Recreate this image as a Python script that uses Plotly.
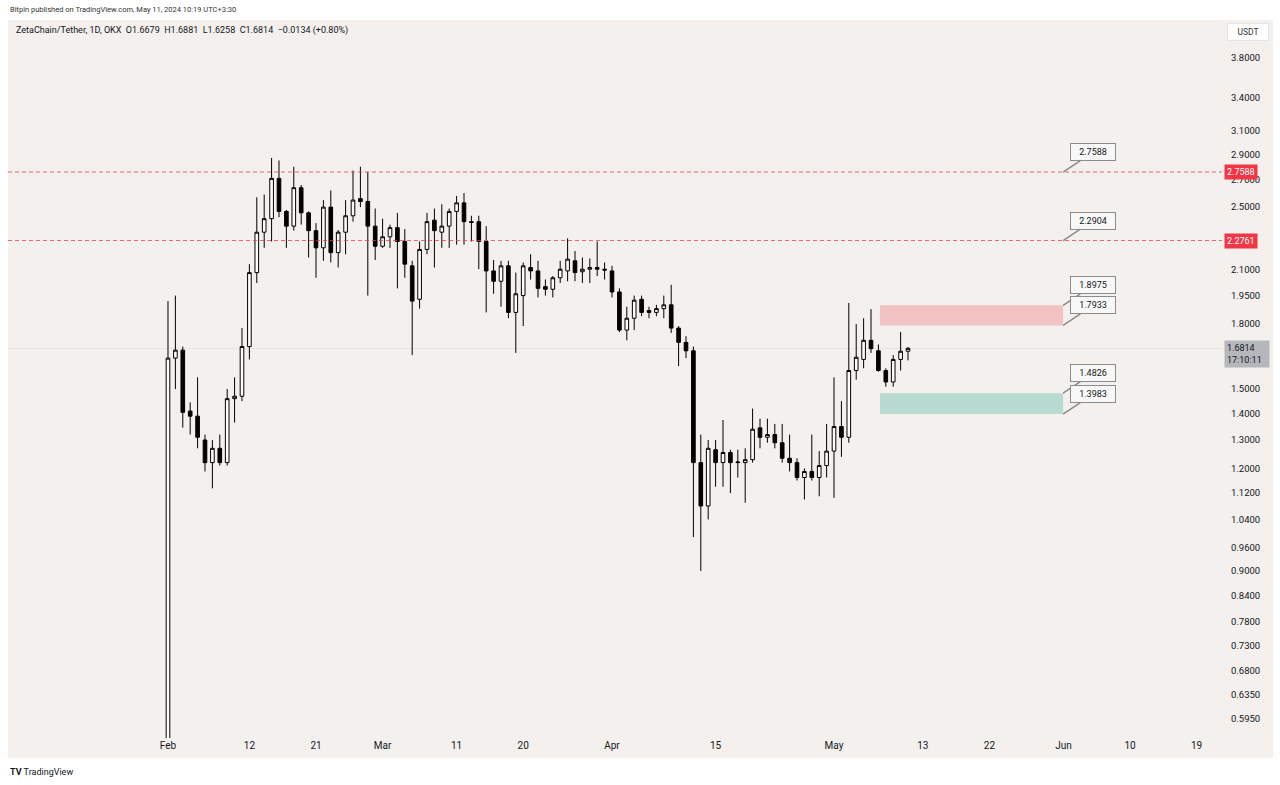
import math
import pandas as pd
import plotly.graph_objects as go

# ---------------- data ----------------
dates = pd.date_range("2024-02-01", periods=101, freq="D")

open_ = [0.45, 1.636, 1.673, 1.41, 1.39, 1.30, 1.22, 1.27, 1.22, 1.46,
         1.47, 1.69, 2.08, 2.33, 2.42, 2.71, 2.47, 2.37, 2.64, 2.46,
         2.34, 2.23, 2.50, 2.20, 2.33, 2.44, 2.56, 2.54, 2.37, 2.24,
         2.30, 2.36, 2.27, 2.12, 1.93, 2.22, 2.41, 2.33, 2.37, 2.47,
         2.53, 2.40, 2.40, 2.27, 2.09, 2.03, 2.12, 1.86, 1.95, 2.11,
         2.09, 2.00, 1.985, 2.05, 2.09, 2.15, 2.085, 2.10, 2.11, 2.10,
         2.09, 1.97, 1.77, 1.83, 1.93, 1.87, 1.86, 1.88, 1.90, 1.78,
         1.71, 1.67, 1.22, 1.08, 1.265, 1.22, 1.255, 1.22, 1.22, 1.23,
         1.345, 1.31, 1.32, 1.29, 1.235, 1.22, 1.17, 1.19, 1.17, 1.21,
         1.26, 1.35, 1.31, 1.58, 1.63, 1.72, 1.67, 1.58, 1.53, 1.63,
         1.6679]
high = [1.92, 1.95, 1.69, 1.445, 1.55, 1.32, 1.30, 1.32, 1.50, 1.55,
        1.78, 2.13, 2.57, 2.59, 2.87, 2.85, 2.48, 2.80, 2.66, 2.47,
        2.39, 2.55, 2.62, 2.344, 2.55, 2.77, 2.80, 2.76, 2.49, 2.42,
        2.38, 2.46, 2.35, 2.15, 2.27, 2.46, 2.49, 2.52, 2.49, 2.58,
        2.60, 2.44, 2.44, 2.37, 2.155, 2.15, 2.15, 2.08, 2.14, 2.19,
        2.15, 2.04, 2.06, 2.15, 2.29, 2.21, 2.17, 2.165, 2.27, 2.14,
        2.12, 1.99, 1.89, 1.95, 1.95, 1.89, 1.90, 1.95, 2.01, 1.79,
        1.74, 1.69, 1.32, 1.30, 1.30, 1.375, 1.265, 1.265, 1.27, 1.42,
        1.38, 1.38, 1.36, 1.36, 1.32, 1.235, 1.20, 1.32, 1.26, 1.36,
        1.55, 1.45, 1.91, 1.80, 1.83, 1.877, 1.70, 1.59, 1.65, 1.76,
        1.6881]
low = [0.45, 1.50, 1.346, 1.32, 1.27, 1.19, 1.135, 1.21, 1.21, 1.365,
       1.45, 1.63, 2.02, 2.23, 2.27, 2.43, 2.23, 2.34, 2.38, 2.17,
       2.05, 2.15, 2.14, 2.11, 2.19, 2.40, 2.50, 1.95, 2.155, 2.23,
       2.23, 1.99, 2.05, 1.65, 1.88, 2.19, 2.11, 2.23, 2.23, 2.25,
       2.25, 2.27, 2.10, 1.86, 1.96, 1.89, 1.83, 1.66, 1.79, 2.04,
       1.94, 1.95, 1.94, 2.02, 2.03, 2.03, 2.02, 2.02, 2.06, 2.04,
       1.94, 1.76, 1.72, 1.77, 1.84, 1.83, 1.84, 1.83, 1.756, 1.60,
       1.636, 0.99, 0.90, 1.04, 1.14, 1.14, 1.12, 1.17, 1.09, 1.22,
       1.27, 1.29, 1.27, 1.22, 1.19, 1.16, 1.10, 1.16, 1.11, 1.17,
       1.105, 1.24, 1.29, 1.54, 1.59, 1.66, 1.575, 1.51, 1.51, 1.58,
       1.6258]
close = [1.636, 1.673, 1.405, 1.39, 1.31, 1.22, 1.27, 1.22, 1.46, 1.47,
         1.69, 2.08, 2.33, 2.42, 2.71, 2.47, 2.37, 2.64, 2.46, 2.34,
         2.23, 2.50, 2.20, 2.33, 2.44, 2.55, 2.54, 2.37, 2.24, 2.30,
         2.36, 2.27, 2.13, 1.92, 2.22, 2.40, 2.34, 2.37, 2.47, 2.53,
         2.40, 2.395, 2.27, 2.09, 2.03, 2.12, 1.86, 1.96, 2.12, 2.09,
         1.99, 1.985, 2.05, 2.10, 2.16, 2.08, 2.10, 2.11, 2.10, 2.095,
         1.97, 1.77, 1.83, 1.925, 1.86, 1.86, 1.88, 1.90, 1.78, 1.71,
         1.67, 1.22, 1.08, 1.27, 1.22, 1.255, 1.22, 1.222, 1.23, 1.34,
         1.31, 1.32, 1.29, 1.235, 1.22, 1.17, 1.19, 1.17, 1.21, 1.26,
         1.35, 1.31, 1.58, 1.64, 1.72, 1.68, 1.58, 1.53, 1.63, 1.668,
         1.6814]

price_ticks = [3.8, 3.4, 3.1, 2.9, 2.7, 2.5, 2.1, 1.95, 1.8, 1.5, 1.4, 1.3,
               1.2, 1.12, 1.04, 0.96, 0.9, 0.84, 0.78, 0.73, 0.68, 0.635, 0.595]
date_ticks = ["2024-02-01", "2024-02-12", "2024-02-21", "2024-03-01", "2024-03-11",
              "2024-03-20", "2024-04-01", "2024-04-15", "2024-05-01", "2024-05-13",
              "2024-05-22", "2024-06-01", "2024-06-10", "2024-06-19"]
date_tick_text = ["Feb", "12", "21", "Mar", "11", "20", "Apr", "15", "May", "13",
                  "22", "Jun", "10", "19"]

resistance_levels = [2.7588, 2.2761]
callout_prices = [2.7588, 2.2761, 1.8975, 1.7933, 1.4826, 1.3983]
callout_texts = ["2.7588", "2.2904", "1.8975", "1.7933", "1.4826", "1.3983"]
sell_zone = (1.7933, 1.8975)
buy_zone = (1.3983, 1.4826)
zone_start = "2024-05-07 05:00"
zone_end = "2024-05-31 23:00"
last_price = 1.6814

# ---------------- layout geometry ----------------
W, H = 1280, 785
ML, MR, MT, MB = 8, 58, 20, 47
PW = W - ML - MR
PH = H - MT - MB
BG = "#f3f0ed"
TXT = "#131722"
FONT = "Roboto"


def px_x(px):
    return (px - ML) / PW


def px_y(py):
    return (H - MB - py) / PH


fig = go.Figure(go.Candlestick(
    x=dates, open=open_, high=high, low=low, close=close,
    increasing=dict(line=dict(color="#000000", width=1), fillcolor="#ffffff"),
    decreasing=dict(line=dict(color="#000000", width=1), fillcolor="#000000"),
    whiskerwidth=0, hoverinfo="skip", showlegend=False,
))

shapes = []
# panel background extension (price / time axis areas)
shapes.append(dict(type="rect", xref="paper", yref="paper", x0=0, x1=px_x(1273),
                    y0=px_y(758), y1=1, fillcolor=BG, line=dict(width=0), layer="below"))
# zones
shapes.append(dict(type="rect", xref="x", yref="y", x0=zone_start, x1=zone_end,
                    y0=sell_zone[0], y1=sell_zone[1], fillcolor="rgba(242,54,69,0.25)",
                    line=dict(width=0), layer="below"))
shapes.append(dict(type="rect", xref="x", yref="y", x0=zone_start, x1=zone_end,
                    y0=buy_zone[0], y1=buy_zone[1], fillcolor="rgba(8,153,129,0.25)",
                    line=dict(width=0), layer="below"))
# faint current price line
shapes.append(dict(type="line", xref="paper", yref="y", x0=0, x1=1, y0=last_price, y1=last_price,
                    line=dict(color="rgba(0,0,0,0.05)", width=1), layer="below"))
for lv in resistance_levels:
    shapes.append(dict(type="line", xref="paper", yref="y", x0=0, x1=1, y0=lv, y1=lv,
                        line=dict(color="rgba(242,54,69,0.75)", width=1, dash="4px,3px")))

ann = []
ann.append(dict(xref="paper", yref="paper", x=px_x(8), y=px_y(10), xanchor="left", yanchor="middle",
                text="Bitpin published on TradingView.com, May 11, 2024 10:19 UTC+3:30",
                showarrow=False, font=dict(family=FONT, size=7.5, color="#333333")))
ann.append(dict(xref="paper", yref="paper", x=px_x(14), y=px_y(31), xanchor="left", yanchor="middle",
                text="ZetaChain/Tether, 1D, OKX  O1.6679  H1.6881  L1.6258  C1.6814  −0.0134 (+0.80%)",
                showarrow=False, font=dict(family=FONT, size=9, color=TXT)))
ann.append(dict(xref="paper", yref="paper", x=px_x(1248), y=px_y(32), xanchor="center", yanchor="middle",
                text="USDT", showarrow=False, bgcolor="#ffffff", bordercolor="#e6e6e6", borderwidth=1,
                borderpad=3, width=34, font=dict(family=FONT, size=8.5, color="#333333")))
for lv in resistance_levels:
    ann.append(dict(xref="paper", yref="y", x=px_x(1224), y=math.log10(lv), xanchor="left",
                    yanchor="middle", text=f"{lv:.4f}", showarrow=False, bgcolor="#f23645",
                    borderpad=2, font=dict(family=FONT, size=9, color="#ffffff")))
ann.append(dict(xref="paper", yref="paper", x=px_x(1224), y=px_y(354), xanchor="left", yanchor="middle",
                text=f"{last_price:.4f}<br>17:10:11", showarrow=False, bgcolor="#b5b7bd",
                borderpad=2, width=40, align="left", font=dict(family=FONT, size=9, color=TXT)))
for p, t in zip(callout_prices, callout_texts):
    ann.append(dict(xref="x", yref="y", x=zone_end, y=math.log10(p), ax=30, ay=-20,
                    axref="pixel", ayref="pixel", text=t, showarrow=True, arrowhead=0,
                    arrowwidth=1.5, arrowcolor="#8c8c8c", bgcolor="#f8f8f8", bordercolor="#8c8c8c",
                    borderwidth=1, borderpad=3, width=38,
                    font=dict(family=FONT, size=9, color=TXT)))
ann.append(dict(xref="paper", yref="paper", x=px_x(8), y=px_y(772), xanchor="left", yanchor="middle",
                text="<b>TV</b> TradingView", showarrow=False,
                font=dict(family=FONT, size=9, color=TXT)))

fig.update_layout(
    width=W, height=H,
    margin=dict(l=ML, r=MR, t=MT, b=MB, pad=0),
    paper_bgcolor="#ffffff", plot_bgcolor=BG,
    shapes=shapes, annotations=ann, showlegend=False,
    font=dict(family=FONT, color=TXT),
    xaxis=dict(type="date", range=["2024-01-10 09:07", "2024-06-22 10:20"],
               tickvals=date_ticks, ticktext=date_tick_text, tickangle=0,
               showgrid=False, zeroline=False, showline=False, ticks="",
               rangeslider=dict(visible=False), fixedrange=True,
               tickfont=dict(family=FONT, size=10, color=TXT)),
    yaxis=dict(type="log", side="right",
               range=[math.log10(0.563), math.log10(4.228)],
               tickvals=price_ticks, ticktext=[f"{v:.4f}" for v in price_ticks],
               showgrid=False, zeroline=False, showline=False, ticks="",
               ticklabelstandoff=8, fixedrange=True,
               tickfont=dict(family=FONT, size=9.5, color=TXT)),
)

fig.write_html("out.html", include_plotlyjs=True, config={"displayModeBar": False},
               post_script="document.body.style.margin='0';document.body.style.overflow='hidden';")
